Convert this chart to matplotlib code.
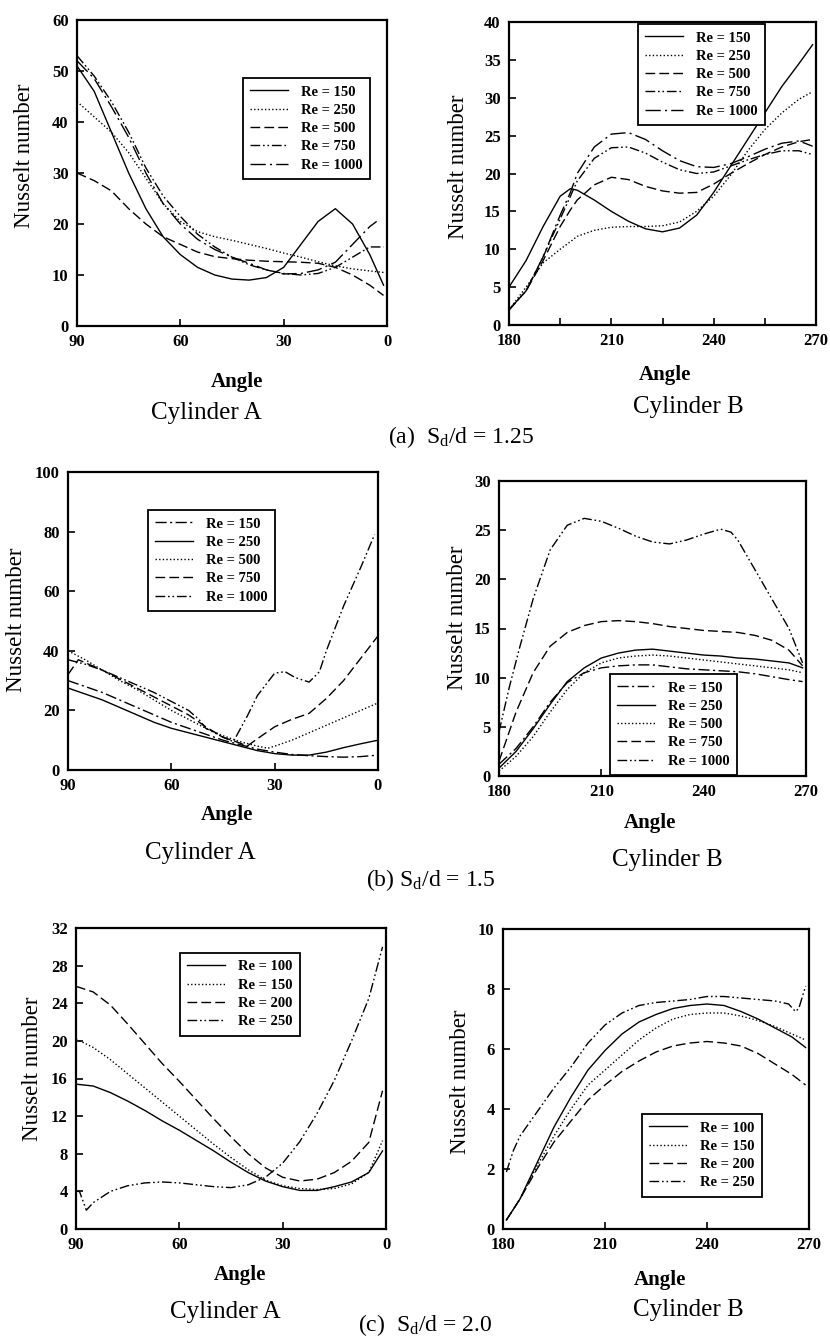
import matplotlib
matplotlib.use("Agg")
import matplotlib.pyplot as plt

plt.rcParams['font.family'] = ['Liberation Serif', 'DejaVu Serif']
plt.rcParams['mathtext.fontset'] = 'custom'
plt.rcParams['mathtext.rm'] = 'Liberation Serif'
plt.rcParams['mathtext.it'] = 'Liberation Serif:italic'

W, H = 830, 1338

# ---- (a) Sd/d = 1.25, cylinder A ----
a_A_angle = [90, 85, 80, 75, 70, 65, 60, 55, 50, 45, 40, 35, 30, 25, 20, 15, 10, 5, 1]
a_A_re150 = [51, 46, 38, 30, 23, 17.5, 14, 11.5, 10, 9.2, 9, 9.5, 11.5, 16, 20.5, 23, 20, 14, 8]
a_A_re250 = [44, 41, 38, 34, 29, 24, 20.5, 18.5, 17.5, 16.8, 16, 15.2, 14.3, 13.5, 12.6, 11.8, 11.2, 10.8, 10.5]
a_A_re500 = [30, 28.5, 26.5, 23, 20, 17.5, 16, 14.5, 13.6, 13.2, 12.9, 12.7, 12.6, 12.5, 12.3, 11.5, 10, 8, 6]
a_A_re750 = [53, 49, 44, 38, 31, 25.5, 21.5, 18, 15.5, 13.5, 12, 11, 10.3, 10, 10.3, 11.5, 13.5, 15.5, 15.5]
a_A_angle1000 = [90, 85, 80, 75, 70, 65, 60, 55, 50, 45, 40, 35, 30, 25, 20, 15, 10, 5, 3]
a_A_re1000 = [52, 48.5, 43, 37, 30, 24, 20, 17, 15, 13.5, 12.3, 11, 10.2, 10.3, 11, 12.5, 16, 19.5, 20.5]

# ---- (a) Sd/d = 1.25, cylinder B ----
a_B_angle = [180, 185, 190, 195, 198, 200, 205, 210, 215, 220, 225, 230, 235, 240, 245, 250, 255, 260, 265, 269]
a_B_re150 = [5, 8.5, 13, 17, 18, 17.8, 16.5, 15, 13.7, 12.7, 12.3, 12.8, 14.5, 17.5, 21, 24.5, 28, 31.5, 34.5, 37]
a_B_re250 = [2, 5, 8.2, 10, 11, 11.7, 12.5, 12.9, 13, 13, 13.1, 13.6, 15, 17, 19.8, 23, 25.8, 28, 29.8, 30.8]
a_B_re500 = [2, 4.5, 8.5, 13, 15.2, 16.5, 18.5, 19.5, 19.2, 18.3, 17.7, 17.4, 17.5, 18.6, 20, 21.3, 22.5, 23.5, 24.2, 24.5]
a_B_re750 = [2, 4.5, 9, 14, 17, 19, 22, 23.4, 23.5, 22.7, 21.5, 20.5, 20, 20.2, 21, 21.8, 22.5, 23, 23, 22.5]
a_B_re1000 = [2, 4.5, 9, 14.5, 17.5, 20, 23.5, 25.2, 25.4, 24.5, 23, 21.7, 20.9, 20.8, 21.3, 22.2, 23.2, 24, 24.3, 23.6]

# ---- (b) Sd/d = 1.5, cylinder A ----
b_A_angle = [90, 85, 80, 75, 70, 65, 60, 55, 50, 45, 40, 35, 30, 25, 20, 15, 10, 5, 0]
b_A_re150 = [30, 28, 26, 23.5, 21, 18.5, 16, 14, 12, 10, 8.5, 7, 6, 5.2, 4.8, 4.5, 4.3, 4.5, 5]
b_A_re250 = [27.5, 25.5, 23.5, 21, 18.5, 16, 14, 12.5, 11, 9.5, 8, 6.5, 5.5, 5, 5, 6, 7.5, 8.8, 10]
b_A_angle500 = [90, 85, 80, 75, 70, 65, 60, 55, 50, 45, 40, 35, 32, 30, 25, 20, 15, 10, 5, 0]
b_A_re500 = [40, 37, 33.5, 30, 27, 23.5, 20, 17, 14, 11.5, 9.5, 8, 7.3, 8, 10, 12.5, 15, 17.5, 20, 22.5]
b_A_angle750 = [90, 87, 85, 80, 75, 70, 65, 60, 55, 50, 45, 40, 38, 35, 30, 25, 20, 15, 10, 5, 0]
b_A_re750 = [32, 37, 36, 33.5, 30.5, 27.5, 24.5, 21.5, 18.5, 14.5, 11, 9, 8, 10.5, 14.5, 17, 19, 24, 30, 37.5, 45]
b_A_angle1000 = [90, 85, 80, 75, 70, 65, 60, 55, 52, 50, 45, 42, 38, 35, 30, 27, 24, 20, 17, 15, 10, 5, 1]
b_A_re1000 = [37, 35.5, 33.5, 31, 28.5, 26, 23, 20, 17, 14, 11, 9.5, 18, 25, 32.5, 33, 31, 29.5, 33, 40, 55, 68, 79]

# ---- (b) Sd/d = 1.5, cylinder B ----
b_B_angle = [180, 185, 190, 195, 200, 205, 210, 215, 220, 225, 230, 235, 240, 245, 250, 255, 260, 265, 269]
b_B_re150 = [1.2, 2.8, 5, 7.5, 9.5, 10.5, 11, 11.2, 11.3, 11.3, 11.1, 10.9, 10.8, 10.7, 10.6, 10.4, 10.1, 9.8, 9.6]
b_B_re250 = [0.8, 2.5, 4.8, 7.3, 9.6, 11, 12, 12.5, 12.8, 12.9, 12.7, 12.5, 12.3, 12.2, 12, 11.9, 11.7, 11.5, 11]
b_B_re500 = [0.5, 2, 4, 6.5, 8.8, 10.5, 11.5, 12, 12.2, 12.3, 12.2, 12, 11.8, 11.6, 11.4, 11.2, 11, 10.8, 10.5]
b_B_re750 = [1.5, 6.5, 10.5, 13.2, 14.6, 15.3, 15.7, 15.8, 15.7, 15.5, 15.2, 15, 14.8, 14.7, 14.6, 14.3, 13.8, 12.8, 11.2]
b_B_angle1000 = [180, 183, 186, 190, 195, 200, 205, 210, 215, 220, 225, 230, 235, 240, 245, 248, 250, 255, 260, 265, 269]
b_B_re1000 = [4.5, 9, 13, 18, 23, 25.5, 26.2, 25.9, 25.2, 24.4, 23.8, 23.6, 24, 24.6, 25.1, 24.8, 24, 21, 18, 15, 11.5]

# ---- (c) Sd/d = 2.0, cylinder A ----
c_A_angle = [90, 85, 80, 75, 70, 65, 60, 55, 50, 45, 40, 35, 30, 25, 20, 15, 10, 5, 1]
c_A_re100 = [15.4, 15.2, 14.5, 13.6, 12.6, 11.5, 10.5, 9.4, 8.3, 7.1, 6, 5.1, 4.5, 4.1, 4.1, 4.5, 5, 6, 8.3]
c_A_re150 = [20.2, 19.3, 18, 16.5, 15, 13.5, 12, 10.5, 9, 7.6, 6.3, 5.2, 4.6, 4.3, 4.2, 4.3, 4.8, 6, 9.4]
c_A_re200 = [25.8, 25.2, 23.8, 21.8, 19.7, 17.6, 15.7, 13.7, 11.7, 9.8, 8, 6.5, 5.5, 5.1, 5.3, 6, 7.2, 9.2, 14.7]
c_A_angle250 = [90, 89, 87, 85, 80, 75, 70, 65, 60, 55, 50, 45, 40, 35, 30, 25, 20, 15, 10, 5, 1]
c_A_re250 = [4, 4, 2, 2.8, 4, 4.6, 4.9, 5, 4.9, 4.7, 4.5, 4.4, 4.7, 5.5, 7, 9.3, 12.3, 15.8, 20, 24.5, 30]

# ---- (c) Sd/d = 2.0, cylinder B ----
c_B_angle = [181, 185, 190, 195, 200, 205, 210, 215, 220, 225, 230, 235, 240, 245, 250, 255, 260, 265, 269]
c_B_re100 = [0.3, 1, 2.2, 3.4, 4.4, 5.3, 5.95, 6.5, 6.9, 7.15, 7.35, 7.45, 7.5, 7.45, 7.25, 7, 6.7, 6.4, 6.05]
c_B_re150 = [0.3, 1, 2.1, 3.1, 4, 4.8, 5.3, 5.8, 6.3, 6.7, 7, 7.15, 7.2, 7.2, 7.1, 6.95, 6.75, 6.5, 6.3]
c_B_re200 = [0.3, 1, 2, 2.9, 3.6, 4.3, 4.8, 5.25, 5.6, 5.9, 6.1, 6.2, 6.25, 6.2, 6.1, 5.85, 5.5, 5.15, 4.8]
c_B_angle250 = [181, 183, 185, 190, 195, 200, 205, 210, 215, 220, 225, 230, 235, 240, 245, 250, 255, 260, 264, 266, 267, 269]
c_B_re250 = [1.9, 2.6, 3.1, 3.9, 4.7, 5.4, 6.2, 6.8, 7.2, 7.45, 7.55, 7.6, 7.65, 7.75, 7.75, 7.7, 7.65, 7.6, 7.5, 7.25, 7.35, 8.1]

# line styles
SOLID = '-'
DOT = (0, (1, 1.6))
DASH = (0, (7, 3))
DASHDOT = (0, (8, 2.5, 1.5, 2.5))
DASHDOTDOT = (0, (7, 2, 1.2, 2, 1.2, 2))
LONGDASHDOT = (0, (11, 3, 1.5, 3))


def box(x0, y0, x1, y1):
    return [x0 / W, 1 - y1 / H, (x1 - x0) / W, (y1 - y0) / H]


def ftext(x, y, s, **kw):
    fig.text(x / W, 1 - y / H, s, ha='center', va='center', **kw)


def panel(rect, xlim, ylim, xticks, yticks, curves, leg_xy, ylab_xy, minor=None):
    ax = fig.add_axes(box(*rect))
    for xs, ys, ls, lab in curves:
        ax.plot(xs, ys, color='black', lw=1.0, linestyle=ls, label=lab)
    ax.set_xlim(*xlim)
    ax.set_ylim(*ylim)
    ax.set_xticks(xticks)
    ax.set_yticks(yticks)
    if minor is not None:
        ax.set_xticks(minor, minor=True)
        ax.tick_params(axis='x', which='minor', direction='in', length=5, width=1.2)
    ax.tick_params(direction='in', length=5, width=1.2, labelsize=12, pad=6)
    for lab in ax.get_xticklabels() + ax.get_yticklabels():
        lab.set_fontweight('bold')
    for sp in ax.spines.values():
        sp.set_linewidth(1.6)
    leg = ax.legend(loc='upper left', bbox_to_anchor=(leg_xy[0] / W, 1 - leg_xy[1] / H),
                    bbox_transform=fig.transFigure, borderaxespad=0, frameon=True,
                    fancybox=False, edgecolor='black', framealpha=1,
                    prop={'weight': 'bold', 'size': 10.5}, handlelength=2.6,
                    labelspacing=0.35, borderpad=0.5, handletextpad=0.9)
    leg.get_frame().set_linewidth(1.3)
    ftext(ylab_xy[0], ylab_xy[1], 'Nusselt number', rotation=90, fontsize=16.5)
    return ax


fig = plt.figure(figsize=(W / 100, H / 100), dpi=100)

# (a)
panel((77, 20, 387, 326), (90, 0), (0, 60), [90, 60, 30, 0], range(0, 61, 10),
      [(a_A_angle, a_A_re150, SOLID, 'Re = 150'),
       (a_A_angle, a_A_re250, DOT, 'Re = 250'),
       (a_A_angle, a_A_re500, DASH, 'Re = 500'),
       (a_A_angle, a_A_re750, DASHDOTDOT, 'Re = 750'),
       (a_A_angle1000, a_A_re1000, LONGDASHDOT, 'Re = 1000')],
      (243, 78), (25, 156))
panel((509, 22, 816, 325), (180, 270), (0, 40), [180, 210, 240, 270], range(0, 41, 5),
      [(a_B_angle, a_B_re150, SOLID, 'Re = 150'),
       (a_B_angle, a_B_re250, DOT, 'Re = 250'),
       (a_B_angle, a_B_re500, DASH, 'Re = 500'),
       (a_B_angle, a_B_re750, DASHDOTDOT, 'Re = 750'),
       (a_B_angle, a_B_re1000, LONGDASHDOT, 'Re = 1000')],
      (638, 24), (458, 167), minor=[195, 225, 255])

# (b)
panel((68, 472, 378, 770), (90, 0), (0, 100), [90, 60, 30, 0], range(0, 101, 20),
      [(b_A_angle, b_A_re150, DASHDOT, 'Re = 150'),
       (b_A_angle, b_A_re250, SOLID, 'Re = 250'),
       (b_A_angle500, b_A_re500, DOT, 'Re = 500'),
       (b_A_angle750, b_A_re750, DASH, 'Re = 750'),
       (b_A_angle1000, b_A_re1000, DASHDOTDOT, 'Re = 1000')],
      (148, 510), (16, 620))
panel((499, 481, 806, 776), (180, 270), (0, 30), [180, 210, 240, 270], range(0, 31, 5),
      [(b_B_angle, b_B_re150, DASHDOT, 'Re = 150'),
       (b_B_angle, b_B_re250, SOLID, 'Re = 250'),
       (b_B_angle, b_B_re500, DOT, 'Re = 500'),
       (b_B_angle, b_B_re750, DASH, 'Re = 750'),
       (b_B_angle1000, b_B_re1000, DASHDOTDOT, 'Re = 1000')],
      (610, 674), (457, 618))

# (c)
panel((76, 928, 386, 1229), (90, 0), (0, 32), [90, 60, 30, 0], range(0, 33, 4),
      [(c_A_angle, c_A_re100, SOLID, 'Re = 100'),
       (c_A_angle, c_A_re150, DOT, 'Re = 150'),
       (c_A_angle, c_A_re200, DASH, 'Re = 200'),
       (c_A_angle250, c_A_re250, DASHDOTDOT, 'Re = 250')],
      (180, 953), (32, 1069))
panel((503, 929, 809, 1229), (180, 270), (0, 10), [180, 210, 240, 270], range(0, 11, 2),
      [(c_B_angle, c_B_re100, SOLID, 'Re = 100'),
       (c_B_angle, c_B_re150, DOT, 'Re = 150'),
       (c_B_angle, c_B_re200, DASH, 'Re = 200'),
       (c_B_angle250, c_B_re250, DASHDOTDOT, 'Re = 250')],
      (642, 1114), (460, 1082))

# axis titles and captions
ftext(237, 382, 'Angle', fontsize=15, fontweight='bold')
ftext(206, 413, 'Cylinder A', fontsize=18)
ftext(665, 375, 'Angle', fontsize=15, fontweight='bold')
ftext(688, 407, 'Cylinder B', fontsize=18)
ftext(461, 437, r'(a)  S$_\mathrm{d}$/d = 1.25', fontsize=17)

ftext(227, 815, 'Angle', fontsize=15, fontweight='bold')
ftext(200, 853, 'Cylinder A', fontsize=18)
ftext(650, 823, 'Angle', fontsize=15, fontweight='bold')
ftext(667, 860, 'Cylinder B', fontsize=18)
ftext(431, 880, r'(b) S$_\mathrm{d}$/d = 1.5', fontsize=17)

ftext(240, 1275, 'Angle', fontsize=15, fontweight='bold')
ftext(225, 1312, 'Cylinder A', fontsize=18)
ftext(660, 1280, 'Angle', fontsize=15, fontweight='bold')
ftext(688, 1310, 'Cylinder B', fontsize=18)
ftext(425, 1325, r'(c)  S$_\mathrm{d}$/d = 2.0', fontsize=17)

fig.savefig('out.png', dpi=100)
